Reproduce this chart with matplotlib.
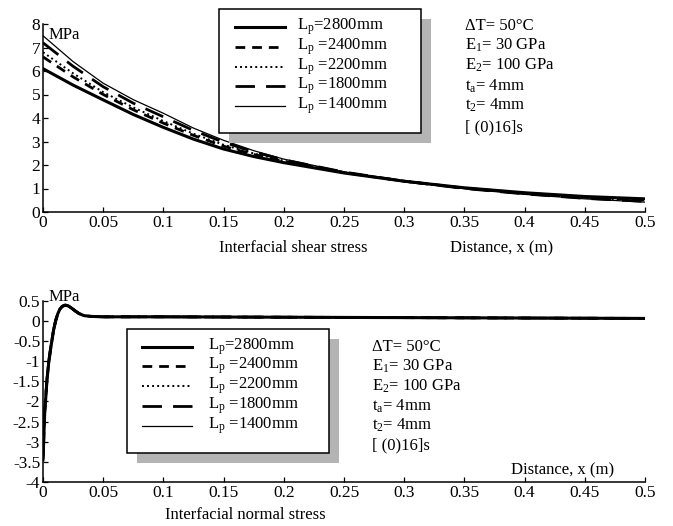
import matplotlib
matplotlib.use("Agg")
import matplotlib.pyplot as plt
from matplotlib.patches import Rectangle
from matplotlib.lines import Line2D

plt.rcParams['font.family'] = ['Liberation Serif', 'DejaVu Serif']
plt.rcParams['mathtext.fontset'] = 'custom'
plt.rcParams['mathtext.rm'] = 'Liberation Serif'
plt.rcParams['mathtext.it'] = 'Liberation Serif:italic'
plt.rcParams['axes.unicode_minus'] = False

# ---------------- data ----------------
lengths = ['2800', '2400', '2200', '1800', '1400']
legend_labels = ['L$_\\mathregular{p}$=2800mm', 'L$_\\mathregular{p}$ =2400mm',
                 'L$_\\mathregular{p}$ =2200mm', 'L$_\\mathregular{p}$ =1800mm',
                 'L$_\\mathregular{p}$ =1400mm']
param_labels = ['\u0394T= 50\u00b0C', 'E$_\\mathregular{1}$= 30 GPa', 'E$_\\mathregular{2}$= 100 GPa',
                't$_\\mathregular{a}$= 4mm', 't$_\\mathregular{2}$= 4mm', '[ (0)16]s']

x_shear = [0, 0.025, 0.05, 0.075, 0.1, 0.125, 0.15, 0.175, 0.2, 0.25, 0.3, 0.35, 0.4, 0.45, 0.5]
shear_2800 = [6.1, 5.4, 4.77, 4.15, 3.6, 3.1, 2.68, 2.36, 2.1, 1.66, 1.31, 1.03, 0.82, 0.66, 0.56]
shear_2400 = [6.6, 5.75, 5.0, 4.35, 3.78, 3.26, 2.8, 2.45, 2.15, 1.68, 1.31, 1.02, 0.80, 0.63, 0.52]
shear_2200 = [6.8, 5.9, 5.1, 4.45, 3.87, 3.33, 2.86, 2.49, 2.18, 1.69, 1.31, 1.01, 0.79, 0.61, 0.49]
shear_1800 = [7.2, 6.2, 5.33, 4.63, 4.05, 3.47, 2.97, 2.56, 2.22, 1.70, 1.31, 1.00, 0.77, 0.58, 0.45]
shear_1400 = [7.5, 6.4, 5.48, 4.78, 4.2, 3.57, 3.05, 2.61, 2.25, 1.71, 1.30, 0.99, 0.75, 0.56, 0.42]

x_normal = [0, 0.0014, 0.0033, 0.0047, 0.0066, 0.0088, 0.0105, 0.0122, 0.014, 0.0160, 0.0185,
            0.021, 0.024, 0.027, 0.030, 0.034, 0.040, 0.05, 0.1, 0.2, 0.3, 0.4, 0.5]
normal_2800 = [-3.45, -2.3, -1.47, -1.05, -0.64, -0.23, 0.0, 0.17, 0.29, 0.36, 0.39,
               0.37, 0.31, 0.24, 0.18, 0.13, 0.11, 0.1, 0.1, 0.09, 0.08, 0.07, 0.06]
normal_2400 = [-3.42, -2.28, -1.46, -1.04, -0.63, -0.23, 0.0, 0.17, 0.29, 0.36, 0.39,
               0.37, 0.31, 0.24, 0.18, 0.13, 0.11, 0.1, 0.1, 0.09, 0.08, 0.07, 0.06]
normal_2200 = [-3.40, -2.27, -1.45, -1.03, -0.63, -0.22, 0.0, 0.17, 0.29, 0.36, 0.39,
               0.37, 0.31, 0.24, 0.18, 0.13, 0.11, 0.1, 0.1, 0.09, 0.08, 0.07, 0.06]
normal_1800 = [-3.36, -2.25, -1.44, -1.02, -0.62, -0.22, 0.01, 0.17, 0.29, 0.36, 0.39,
               0.37, 0.31, 0.24, 0.18, 0.13, 0.11, 0.1, 0.1, 0.09, 0.08, 0.07, 0.06]
normal_1400 = [-3.30, -2.22, -1.42, -1.01, -0.61, -0.21, 0.01, 0.17, 0.29, 0.36, 0.39,
               0.37, 0.31, 0.24, 0.18, 0.13, 0.11, 0.1, 0.1, 0.09, 0.08, 0.07, 0.06]

x_ticks = [0, 0.05, 0.1, 0.15, 0.2, 0.25, 0.3, 0.35, 0.4, 0.45, 0.5]
x_ticklabels = ['0', '0.05', '0.1', '0.15', '0.2', '0.25', '0.3', '0.35', '0.4', '0.45', '0.5']
y_ticks_top = [0, 1, 2, 3, 4, 5, 6, 7, 8]
y_ticks_bot = [-4, -3.5, -3, -2.5, -2, -1.5, -1, -0.5, 0, 0.5]
y_ticklabels_bot = ['-4', '-3.5', '-3', '-2.5', '-2', '-1.5', '-1', '-0.5', '0', '0.5']

# ---------------- styles ----------------
styles = [
    dict(color='black', lw=2.2, ls='-'),
    dict(color='black', lw=2.0, ls=(0, (3.5, 2.5))),
    dict(color='black', lw=1.4, ls=(0, (1, 1.6))),
    dict(color='black', lw=2.0, ls=(0, (7, 4))),
    dict(color='black', lw=0.9, ls='-'),
]

W, H = 673, 526
FS = 12
TFS = 12.5
fig = plt.figure(figsize=(W / 100, H / 100), dpi=100)


def fx(px):
    return px / W


def fy(py):
    return 1 - py / H


def style_axes(ax):
    for s in ['top', 'right']:
        ax.spines[s].set_visible(False)
    for s in ['left', 'bottom']:
        ax.spines[s].set_linewidth(1.1)
    ax.tick_params(direction='in', length=3.5, width=0.9, labelsize=TFS, pad=2.0)
    ax.set_xlim(0, 0.5)
    ax.set_xticks(x_ticks)
    ax.set_xticklabels(x_ticklabels)


def draw_key(left, top, right, bottom, rows, sx0, sx1, tx):
    sh = Rectangle((fx(left + 10), fy(bottom + 10)), fx(right - left), (bottom - top) / H,
                   transform=fig.transFigure, facecolor='#b4b4b4', edgecolor='none', zorder=5)
    fig.add_artist(sh)
    box = Rectangle((fx(left), fy(bottom)), fx(right - left), (bottom - top) / H,
                    transform=fig.transFigure, facecolor='white', edgecolor='black',
                    lw=1.1, zorder=6)
    fig.add_artist(box)
    for ry, lab, st in zip(rows, legend_labels, styles):
        ln = Line2D([fx(sx0), fx(sx1)], [fy(ry), fy(ry)], transform=fig.transFigure,
                    zorder=7, **st)
        fig.add_artist(ln)
        fig.text(fx(tx), fy(ry), lab, fontsize=FS, va='center', ha='left', zorder=7)


def draw_params(x, rows):
    for ry, lab in zip(rows, param_labels):
        fig.text(fx(x), fy(ry), lab, fontsize=FS, va='center', ha='left')


# ---------------- top panel ----------------
ax1 = fig.add_axes([fx(43), fy(212), fx(645 - 43), (212 - 24) / H])
style_axes(ax1)
for ys, st in zip([shear_2800, shear_2400, shear_2200, shear_1800, shear_1400], styles):
    ax1.plot(x_shear, ys, **st)
ax1.set_ylim(0, 8)
ax1.set_yticks(y_ticks_top)
fig.text(fx(49), fy(35), 'MPa', fontsize=FS, va='center', ha='left')
fig.text(fx(293), fy(248), 'Interfacial shear stress', fontsize=FS, va='center', ha='center')
fig.text(fx(502), fy(248), 'Distance, x (m)', fontsize=FS, va='center', ha='center')
draw_key(219, 9, 421, 133, [26.7, 47.0, 66.5, 86.0, 106.0], 235, 285, 297)
draw_params(465, [26, 45.5, 65.5, 86, 105.5, 127])

# ---------------- bottom panel ----------------
ax2 = fig.add_axes([fx(43), fy(482), fx(645 - 43), (482 - 300.7) / H])
style_axes(ax2)
for ys, st in zip([normal_2800, normal_2400, normal_2200, normal_1800, normal_1400], styles):
    ax2.plot(x_normal, ys, **st)
ax2.set_ylim(-4, 0.5)
ax2.set_yticks(y_ticks_bot)
ax2.set_yticklabels(y_ticklabels_bot)
fig.text(fx(49), fy(297), 'MPa', fontsize=FS, va='center', ha='left')
fig.text(fx(245), fy(515), 'Interfacial normal stress', fontsize=FS, va='center', ha='center')
fig.text(fx(563), fy(470), 'Distance, x (m)', fontsize=FS, va='center', ha='center')
draw_key(127, 329, 329, 453, [346.7, 366, 386, 406, 425.7], 142, 192, 208)
draw_params(372, [346.7, 366, 386, 406, 425.7, 445.5])

fig.savefig('out.png', dpi=100)
